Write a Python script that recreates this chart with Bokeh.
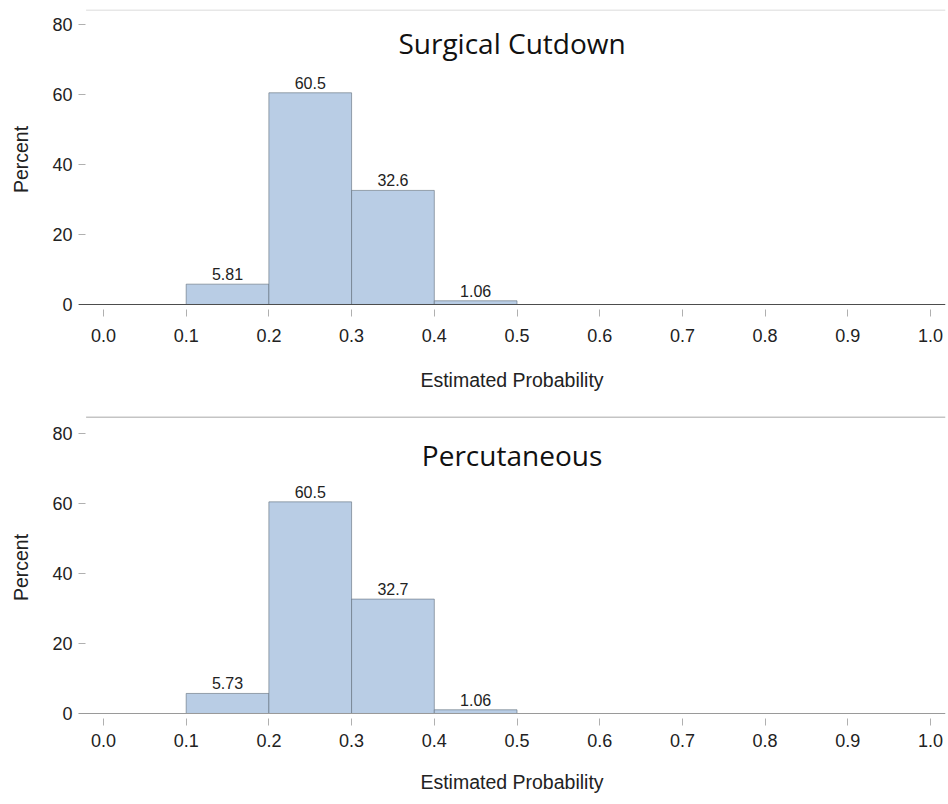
from bokeh.plotting import figure
from bokeh.layouts import column
from bokeh.models import FixedTicker, NumeralTickFormatter, Label, Span, ColumnDataSource
from bokeh.core.properties import value
from bokeh.embed import file_html
from bokeh.resources import INLINE

# ---- data ----
bin_left = [0.1, 0.2, 0.3, 0.4]
bin_right = [0.2, 0.3, 0.4, 0.5]
surgical_pct = [5.81, 60.5, 32.6, 1.06]
percut_pct = [5.73, 60.5, 32.7, 1.06]
surgical_labels = ["5.81", "60.5", "32.6", "1.06"]
percut_labels = ["5.73", "60.5", "32.7", "1.06"]
x_ticks = [0.0, 0.1, 0.2, 0.3, 0.4, 0.5, 0.6, 0.7, 0.8, 0.9, 1.0]
y_ticks = [0, 20, 40, 60, 80]
titles = ["Surgical Cutdown", "Percutaneous"]

BAR = "#b9cde5"
AX_FONT = "Liberation Sans"


def make_panel(title, vals, labels, y_end, frame_h, top_border, bottom_border,
               zero_color, top_line_color, lab_standoff, title_standoff, title_y):
    p = figure(frame_width=867, frame_height=frame_h,
               x_range=(-0.0302, 1.0181), y_range=(-1.43, y_end),
               output_backend="svg", toolbar_location=None,
               min_border_left=78, min_border_right=2,
               min_border_top=top_border, min_border_bottom=bottom_border)
    p.outline_line_color = None
    p.xgrid.visible = False
    p.ygrid.visible = False
    p.background_fill_color = "white"
    p.border_fill_color = "white"

    src = ColumnDataSource(dict(left=bin_left, right=bin_right, top=vals,
                                bottom=[0] * len(vals), lab=labels,
                                mid=[(a + b) / 2 for a, b in zip(bin_left, bin_right)]))
    p.quad(left="left", right="right", top="top", bottom="bottom", source=src,
           fill_color=BAR, line_color="#5f6b78", line_width=0.8, line_alpha=0.75)
    p.text(x="mid", y="top", text="lab", source=src, text_align="center",
           text_baseline="bottom", y_offset=-4,
           text_font=value(AX_FONT), text_font_size="16px", text_color="#222222")

    # zero line and top border line
    p.add_layout(Span(location=0, dimension="width", line_color=zero_color, line_width=1.2))
    p.segment(x0=[-0.021], x1=[1.0181], y0=[y_end - 0.15], y1=[y_end - 0.15],
              line_color=top_line_color, line_width=1.2)

    p.add_layout(Label(x=0.494, y=title_y, text=title, text_align="center",
                       text_baseline="middle", text_font="Open Sans",
                       text_font_size="28px", text_color="#111111"))

    xa = p.xaxis[0]
    xa.ticker = FixedTicker(ticks=x_ticks)
    xa.formatter = NumeralTickFormatter(format="0.0")
    xa.axis_line_color = None
    xa.major_tick_line_color = "#b0b0b0"
    xa.major_tick_in = 0
    xa.major_tick_out = 7
    xa.minor_tick_line_color = None
    xa.major_label_standoff = lab_standoff
    xa.major_label_text_font = AX_FONT
    xa.major_label_text_font_size = "18px"
    xa.major_label_text_color = "#222222"
    xa.axis_label = "Estimated Probability"
    xa.axis_label_text_font = AX_FONT
    xa.axis_label_text_font_size = "19.5px"
    xa.axis_label_text_font_style = "normal"
    xa.axis_label_text_color = "#222222"
    xa.axis_label_standoff = title_standoff

    ya = p.yaxis[0]
    ya.ticker = FixedTicker(ticks=y_ticks)
    ya.axis_line_color = None
    ya.major_tick_line_color = "#b0b0b0"
    ya.major_tick_in = 7
    ya.major_tick_out = 0
    ya.minor_tick_line_color = None
    ya.major_label_standoff = 6
    ya.major_label_text_font = AX_FONT
    ya.major_label_text_font_size = "18px"
    ya.major_label_text_color = "#222222"
    ya.axis_label = "Percent"
    ya.axis_label_text_font = AX_FONT
    ya.axis_label_text_font_size = "19.5px"
    ya.axis_label_text_font_style = "normal"
    ya.axis_label_text_color = "#222222"
    ya.axis_label_standoff = 17
    return p


p1 = make_panel(titles[0], surgical_pct, surgical_labels, 84.3, 300, 9, 91,
                "#4d4d4d", "#cfcfcf", 12, 24, 74.6)
p2 = make_panel(titles[1], percut_pct, percut_labels, 84.9, 302, 16, 84,
                "#9a9a9a", "#8a8a8a", 8, 21, 74.0)

layout = column(p1, p2, spacing=0)
open("out.html", "w").write(file_html(layout, INLINE))
